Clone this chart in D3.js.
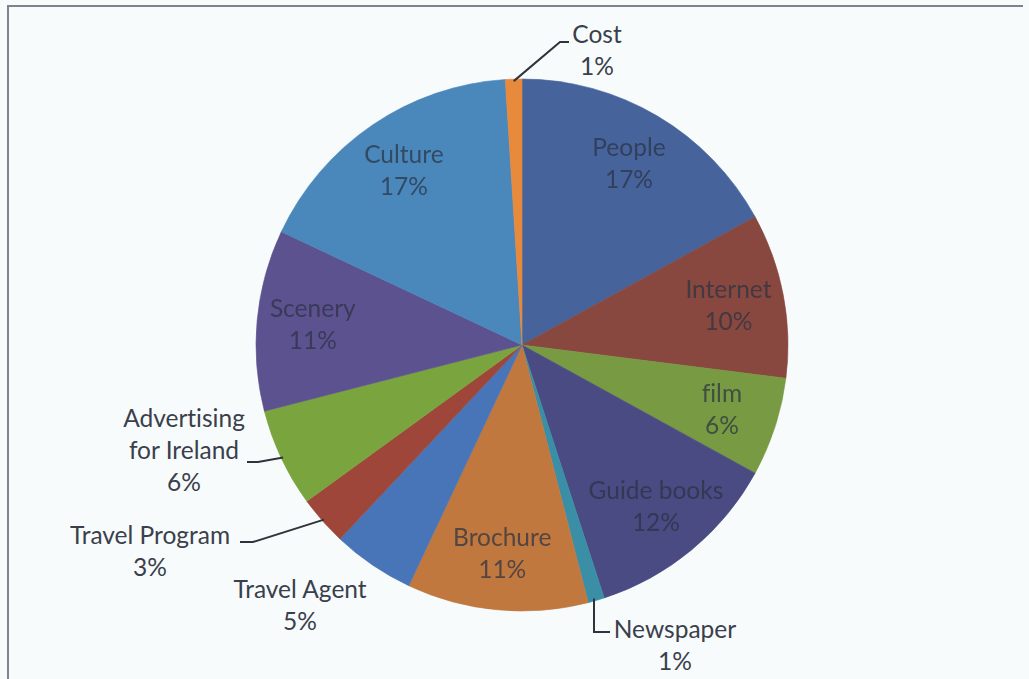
<!DOCTYPE html>
<html>
<head>
<meta charset="utf-8">
<script src="https://cdn.jsdelivr.net/npm/d3@7"></script>
<style>
  html, body { margin: 0; padding: 0; background: #f7fbfc; }
  svg { display: block; }
  text { font-variant-ligatures: none; font-feature-settings: "liga" 0; }
</style>
</head>
<body>
<svg id="chart" width="1029" height="679"></svg>
<script>
// Sources of inspiration for visiting Ireland (share of responses)
const categories = ["People", "Internet", "film", "Guide books", "Newspaper", "Brochure",
  "Travel Agent", "Travel Program", "Advertising for Ireland", "Scenery", "Culture", "Cost"];
const shares = [17, 10, 6, 12, 1, 11, 5, 3, 6, 11, 17, 1];
const percentLabels = ["17%", "10%", "6%", "12%", "1%", "11%", "5%", "3%", "6%", "11%", "17%", "1%"];
const sliceColors = ["#46639c", "#88483f", "#789a42", "#4a4b82", "#3a8ea5", "#c0783f",
  "#4874b8", "#9d4639", "#7aa43e", "#5d5290", "#4a88bb", "#e88a3c"];

const W = 1029, H = 679;
const cx = 522, cy = 345, R = 266;

const svg = d3.select("#chart");

// chart area frame
svg.append("rect").attr("x", 0).attr("y", 0).attr("width", W).attr("height", H).attr("fill", "#f7fbfc");
svg.append("path")
  .attr("d", `M8,${H} L8,6 L1023,6`)
  .attr("fill", "none").attr("stroke", "#7d838f").attr("stroke-width", 2);

const defs = svg.append("defs");
defs.append("filter").attr("id", "soft")
  .append("feGaussianBlur").attr("stdDeviation", 0.6);

const data = categories.map((c, i) => ({ name: c, value: shares[i], pct: percentLabels[i], color: sliceColors[i] }));

const pie = d3.pie().value(d => d.value).sort(null).startAngle(0).endAngle(2 * Math.PI);
const arcs = pie(data);
const arc = d3.arc().innerRadius(0).outerRadius(R);

const g = svg.append("g").attr("transform", `translate(${cx},${cy})`);

g.selectAll("path.slice")
  .data(arcs)
  .join("path")
  .attr("class", "slice")
  .attr("d", arc)
  .attr("fill", d => d.data.color)
  .attr("stroke", d => d.data.color)
  .attr("stroke-width", 0.6);

// labels placed inside the wedge
const insideNames = new Set(["People", "Internet", "film", "Guide books", "Brochure", "Scenery", "Culture"]);
const labelArc = d3.arc().innerRadius(R * 0.79).outerRadius(R * 0.79);
const fontFam = "Lato, 'Open Sans', sans-serif";
const fs = 24.5, lh = 32;

const inner = g.append("g").attr("filter", "url(#soft)");
arcs.filter(d => insideNames.has(d.data.name)).forEach(d => {
  const [x, y] = labelArc.centroid(d);
  const t = inner.append("text")
    .attr("text-anchor", "middle")
    .attr("font-family", fontFam).attr("font-size", fs)
    .attr("fill", "#283142").attr("fill-opacity", 0.72);
  t.append("tspan").attr("x", x).attr("y", y - lh / 2 + 8).text(d.data.name);
  t.append("tspan").attr("x", x).attr("y", y + lh / 2 + 8).text(d.data.pct);
});

// labels set outside the pie, with leader lines where the wedge is too thin
// offsets: label block centre relative to the pie centre; elbow: leader bend point
const outsideLayout = {
  "Cost":                   { dx: 75,   dy: -294, lines: ["Cost"], elbow: [38, -303], end: [47, -303] },
  "Newspaper":              { dx: 153,  dy: 301,  lines: ["Newspaper"], elbow: [72, 287], end: [88, 287], vertical: true },
  "Travel Agent":           { dx: -222, dy: 261,  lines: ["Travel Agent"] },
  "Travel Program":         { dx: -372, dy: 207,  lines: ["Travel Program"], elbow: [-269, 197], end: [-282, 197] },
  "Advertising for Ireland":{ dx: -338, dy: 106,  lines: ["Advertising", "for Ireland"], elbow: [-264, 117], end: [-275, 117] }
};

const outer = g.append("g");
arcs.filter(d => outsideLayout[d.data.name]).forEach(d => {
  const L = outsideLayout[d.data.name];
  const lines = L.lines.concat([d.data.pct]);
  const top = L.dy - (lines.length - 1) * lh / 2;
  const t = outer.append("text")
    .attr("text-anchor", "middle")
    .attr("font-family", fontFam).attr("font-size", fs)
    .attr("fill", "#3a404b");
  lines.forEach((s, i) => {
    t.append("tspan").attr("x", L.dx).attr("y", top + i * lh + 8).text(s);
  });
  if (L.elbow) {
    const mid = (d.startAngle + d.endAngle) / 2;
    const px = Math.sin(mid) * (R - 2), py = -Math.cos(mid) * (R - 2);
    const start = L.vertical ? [L.elbow[0], py] : [px, py];
    outer.append("path")
      .attr("d", `M${start[0]},${start[1]} L${L.elbow[0]},${L.elbow[1]} L${L.end[0]},${L.end[1]}`)
      .attr("fill", "none").attr("stroke", "#2f343c").attr("stroke-width", 2);
  }
});
</script>
</body>
</html>
